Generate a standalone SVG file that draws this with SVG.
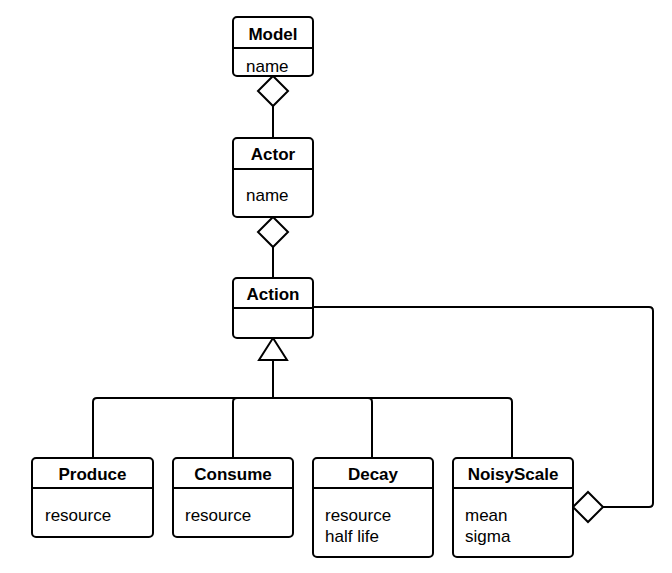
<svg xmlns="http://www.w3.org/2000/svg" width="672" height="573" viewBox="0 0 672 573">
  <style>
    .box { fill: #ffffff; stroke: #000000; stroke-width: 2; }
    .div { stroke: #000000; stroke-width: 2; }
    .title { font-family: "Liberation Sans", Arial, sans-serif; font-size: 17px; font-weight: bold; text-anchor: middle; fill: #000000; }
    .attr { font-family: "Liberation Sans", Arial, sans-serif; font-size: 17px; fill: #000000; }
    .wire { fill: none; stroke: #000000; stroke-width: 2; stroke-linejoin: round; }
    .head { fill: #ffffff; stroke: #000000; stroke-width: 2; stroke-linejoin: miter; }
  </style>
  <rect width="672" height="573" fill="#ffffff"/>

  <g id="connectors">
    <!-- Model <>— Actor -->
    <line class="wire" x1="273" y1="106" x2="273" y2="138"/>
    <!-- Actor <>— Action -->
    <line class="wire" x1="273" y1="247" x2="273" y2="278"/>
    <!-- generalisation bus -->
    <path class="wire" d="M273 360 V398"/>
    <path class="wire" d="M93 458 V402 Q93 398 97 398 H508 Q512 398 512 402 V458"/>
    <path class="wire" d="M233 458 V402 Q233 398 237 398"/>
    <path class="wire" d="M372 458 V402 Q372 398 368 398"/>
    <!-- Action —<> NoisyScale -->
    <path class="wire" d="M313 307 H649 Q653 307 653 311 V503 Q653 507 649 507 H603"/>
    <!-- heads -->
    <polygon class="head" points="273,76 288,91 273,106 258,91"/>
    <polygon class="head" points="273,217 288,232 273,247 258,232"/>
    <polygon class="head" points="273,338 287,360 259,360"/>
    <polygon class="head" points="573,507 588,492 603,507 588,522"/>
  </g>

  <g id="model">
    <rect class="box" x="233" y="17" width="80" height="59" rx="4"/>
    <line class="div" x1="233" y1="48" x2="313" y2="48"/>
    <text class="title" x="273" y="40">Model</text>
    <text class="attr" x="246" y="72">name</text>
  </g>

  <g id="actor">
    <rect class="box" x="233" y="138" width="80" height="79" rx="4"/>
    <line class="div" x1="233" y1="169" x2="313" y2="169"/>
    <text class="title" x="273" y="160">Actor</text>
    <text class="attr" x="246" y="201">name</text>
  </g>

  <g id="action">
    <rect class="box" x="233" y="278" width="80" height="60" rx="4"/>
    <line class="div" x1="233" y1="308" x2="313" y2="308"/>
    <text class="title" x="273" y="300">Action</text>
  </g>

  <g id="produce">
    <rect class="box" x="32" y="458" width="121" height="79" rx="4"/>
    <line class="div" x1="32" y1="488" x2="153" y2="488"/>
    <text class="title" x="92.5" y="480">Produce</text>
    <text class="attr" x="45" y="521">resource</text>
  </g>

  <g id="consume">
    <rect class="box" x="173" y="458" width="120" height="79" rx="4"/>
    <line class="div" x1="173" y1="488" x2="293" y2="488"/>
    <text class="title" x="233" y="480">Consume</text>
    <text class="attr" x="185" y="521">resource</text>
  </g>

  <g id="decay">
    <rect class="box" x="313" y="458" width="120" height="99" rx="4"/>
    <line class="div" x1="313" y1="488" x2="433" y2="488"/>
    <text class="title" x="373" y="480">Decay</text>
    <text class="attr" x="325" y="521">resource</text>
    <text class="attr" x="325" y="542">half life</text>
  </g>

  <g id="noisyscale">
    <rect class="box" x="453" y="458" width="120" height="99" rx="4"/>
    <line class="div" x1="453" y1="488" x2="573" y2="488"/>
    <text class="title" x="513" y="480">NoisyScale</text>
    <text class="attr" x="465" y="521">mean</text>
    <text class="attr" x="465" y="542">sigma</text>
  </g>
</svg>
